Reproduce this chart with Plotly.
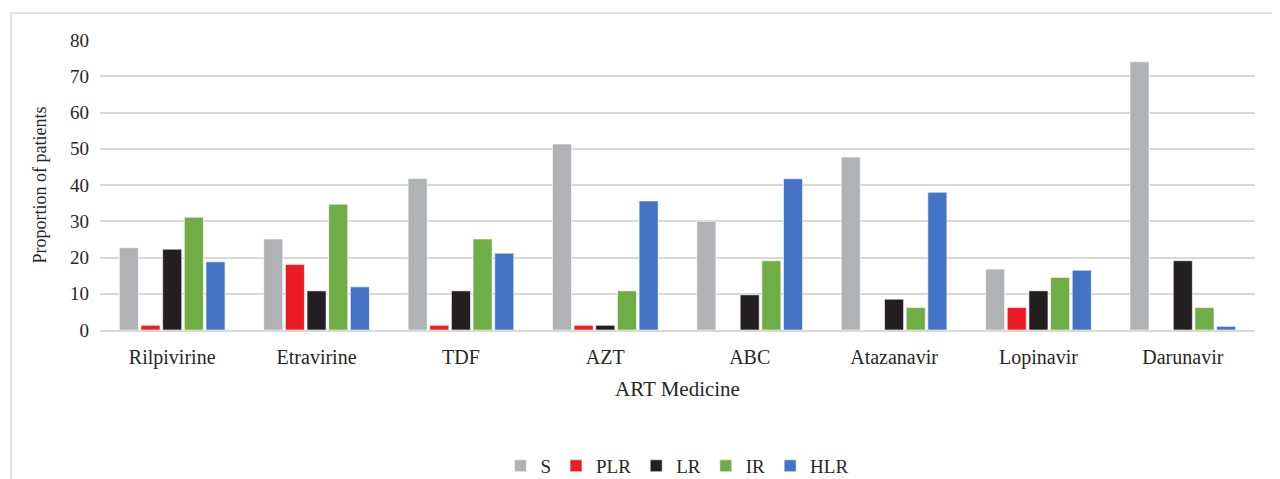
import plotly.graph_objects as go

categories = ["Rilpivirine", "Etravirine", "TDF", "AZT", "ABC", "Atazanavir", "Lopinavir", "Darunavir"]
S = [22.7, 25.1, 41.8, 51.3, 30.0, 47.7, 16.8, 74.0]
PLR = [1.3, 18.1, 1.3, 1.3, 0, 0, 6.2, 0]
LR = [22.3, 10.8, 10.8, 1.3, 9.7, 8.5, 10.8, 19.1]
IR = [31.1, 34.7, 25.1, 10.8, 19.1, 6.2, 14.5, 6.2]
HLR = [18.8, 11.9, 21.2, 35.6, 41.7, 38.0, 16.5, 1.0]
y_ticks = [0, 10, 20, 30, 40, 50, 60, 70, 80]

series = [
    ("S", S, "#B1B2B5"),
    ("PLR", PLR, "#ED1C24"),
    ("LR", LR, "#231F20"),
    ("IR", IR, "#70AD47"),
    ("HLR", HLR, "#4472C4"),
]

font_family = "Liberation Serif"

fig = go.Figure()
for name, vals, color in series:
    fig.add_trace(go.Bar(
        name=name, x=categories, y=vals,
        marker=dict(color=color, line=dict(color="rgba(255,255,255,0.6)", width=1)),
    ))

fig.update_layout(
    width=1280, height=479,
    margin=dict(l=92, r=33, t=32, b=157),
    paper_bgcolor="white", plot_bgcolor="white",
    barmode="group", bargap=0.25, bargroupgap=0.12,
    font=dict(family=font_family, size=19, color="#262626"),
    showlegend=True,
    legend=dict(orientation="h", xref="container", yref="container",
                x=0.523, xanchor="center", y=0.044, yanchor="middle",
                font=dict(family=font_family, size=19), itemwidth=30, traceorder="normal"),
    xaxis=dict(
        title=dict(text="ART Medicine", font=dict(family=font_family, size=21), standoff=14),
        showgrid=False, showline=True, linecolor="#D9D9D9", linewidth=1.5,
        ticks="", tickfont=dict(family=font_family, size=20), ticklabelstandoff=8,
    ),
    yaxis=dict(
        title=dict(text="Proportion of patients", font=dict(family=font_family, size=18), standoff=18),
        range=[0, 80], tickvals=y_ticks, showgrid=True, gridcolor="#D9D9D9", gridwidth=1.5,
        zeroline=False, showline=False, ticks="", tickfont=dict(family=font_family, size=19),
        ticklabelstandoff=10,
    ),
    shapes=[dict(type="rect", xref="paper", yref="paper",
                 x0=-0.077, x1=1.2, y0=-0.7, y1=1.093,
                 line=dict(color="#D9D9D9", width=1.5), fillcolor="rgba(0,0,0,0)", layer="below")],
)

fig.write_html("out.html")
